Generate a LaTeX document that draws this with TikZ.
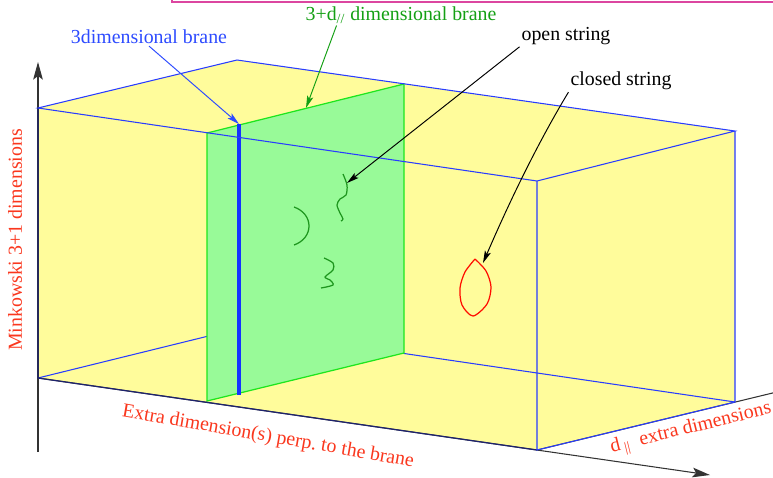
\documentclass[tikz,border=0pt]{standalone}
\usepackage{fontspec}
\setmainfont{Liberation Serif}
\usetikzlibrary{arrows.meta, calc}

\definecolor{boxyellow}{RGB}{255,252,155}
\definecolor{branegreen}{RGB}{152,250,152}
\definecolor{braneedge}{RGB}{30,230,30}
\definecolor{edgeblue}{RGB}{40,60,255}
\definecolor{edgenavy}{RGB}{30,35,110}
\definecolor{threeblue}{RGB}{20,50,255}
\definecolor{labelred}{RGB}{250,55,30}
\definecolor{labelgreen}{RGB}{20,160,20}
\definecolor{labelblue}{RGB}{45,75,255}
\definecolor{stringgreen}{RGB}{30,150,30}
\definecolor{framepink}{RGB}{220,70,160}

\begin{document}
\begin{tikzpicture}[
    x=0.02cm, y=-0.02cm,
    every node/.style={font=\fontsize{11.3}{13}\selectfont, inner sep=1pt},
    boxedge/.style={edgeblue, line width=0.6pt},
    axisline/.style={black!80, line width=0.6pt},
    axisarrow/.style={-{Stealth[length=10pt, width=5.5pt, inset=2pt]}},
    pointer/.style={-{Stealth[length=7pt, width=3.6pt, inset=1.5pt]}, line width=0.55pt},
    stringline/.style={line width=0.7pt},
    axistext/.style={text=labelred}
]

\useasboundingbox (0,0) rectangle (773,477);

% Frame of the figure above
\draw[framepink, line width=0.9pt] (172,-2) -- (172,2) -- (780,2);

% Box corners
\coordinate (flb) at (38,378);
\coordinate (flt) at (38,108);
\coordinate (frb) at (537,450);
\coordinate (frt) at (537,181);
\coordinate (blb) at (237,329);
\coordinate (blt) at (237,60);
\coordinate (brb) at (735,402);
\coordinate (brt) at (735,131);

% Brane corners
\coordinate (pa) at (207,133);
\coordinate (pb) at (404,84);
\coordinate (pc) at (404,353);
\coordinate (pd) at (207,401);

% Axis ends
\coordinate (zlow) at (38,452);
\coordinate (ztip) at (38,62);
\coordinate (xtip) at (710,475);
\coordinate (yend) at (785,390);

% Box body
\fill[boxyellow] (flt) -- (blt) -- (brt) -- (brb) -- (frb) -- (flb) -- cycle;
\draw[boxedge] (flb) -- (blb) -- (brb);

% 3+d brane
\filldraw[fill=branegreen, draw=braneedge, line width=0.7pt] (pa) -- (pb) -- (pc) -- (pd) -- cycle;

% 3 brane
\coordinate (d3top) at (239,124);
\coordinate (d3bot) at (239,395);
\draw[threeblue, line width=2.8pt] (d3top) -- (d3bot);

% Axes
\draw[axisline, axisarrow] (zlow) -- (ztip);
\draw[axisline, axisarrow] (flb) -- (xtip);
\draw[axisline] (frb) -- (yend);

% Front edges
\draw[edgenavy, line width=0.7pt] (flt) -- (flb) -- (frb);
\draw[boxedge] (flt) -- (blt) -- (brt) -- (frt) -- cycle;
\draw[boxedge] (frt) -- (frb) -- (brb) -- (brt);

% Strings
\draw[stringline, stringgreen] plot[smooth] coordinates {(343,174) (347,185) (346,195) (340,199) (337,205) (340,213) (343,219) (341,221)};
\draw[stringline, stringgreen] (294,207) .. controls (314,214) and (314,238) .. (294,245);
\draw[stringline, stringgreen] plot[smooth] coordinates {(324,258) (333,263) (333,270) (325,277) (330,280) (333,285) (321,288)};
\draw[stringline, red!90!orange] plot[smooth] coordinates {(475,259) (486,271) (491,287) (487,304) (473,316) (462,305) (460,288) (465,272) (475,259)};
\coordinate (ostip) at (347,183);
\coordinate (cstip) at (483,263);
\coordinate (bptip) at (306,108);

% Labels
\node[text=labelblue] (lblbrane3) at (149,37) {3dimensional brane};
\node[text=labelgreen] (lblbranep) at (401,15) {3+d\textsubscript{//} dimensional brane};
\node (lblopen) at (566,36) {open string};
\node (lblclosed) at (621,81) {closed string};
\node[axistext, rotate=90] (lblmink) at (15,240) {Minkowski 3+1 dimensions};
\node[axistext, rotate=-9.8] (lblperp) at (268,437) {Extra dimension(s) perp.\ to the brane};
\node[axistext, rotate=13.8] (lblpar) at (691,429) {d\kern2pt\textsubscript{||}\ \ extra dimensions};

% Pointers
\draw[pointer, labelblue] (lblbrane3.south) -- (d3top);
\draw[pointer, labelgreen] ($(lblbranep.south west)+(33,0)$) -- (bptip);
\draw[pointer] (lblopen.south west) -- (ostip);
\draw[pointer] (lblclosed.south west) .. controls (536,146) and (508,205) .. (cstip);

\end{tikzpicture}
\end{document}
